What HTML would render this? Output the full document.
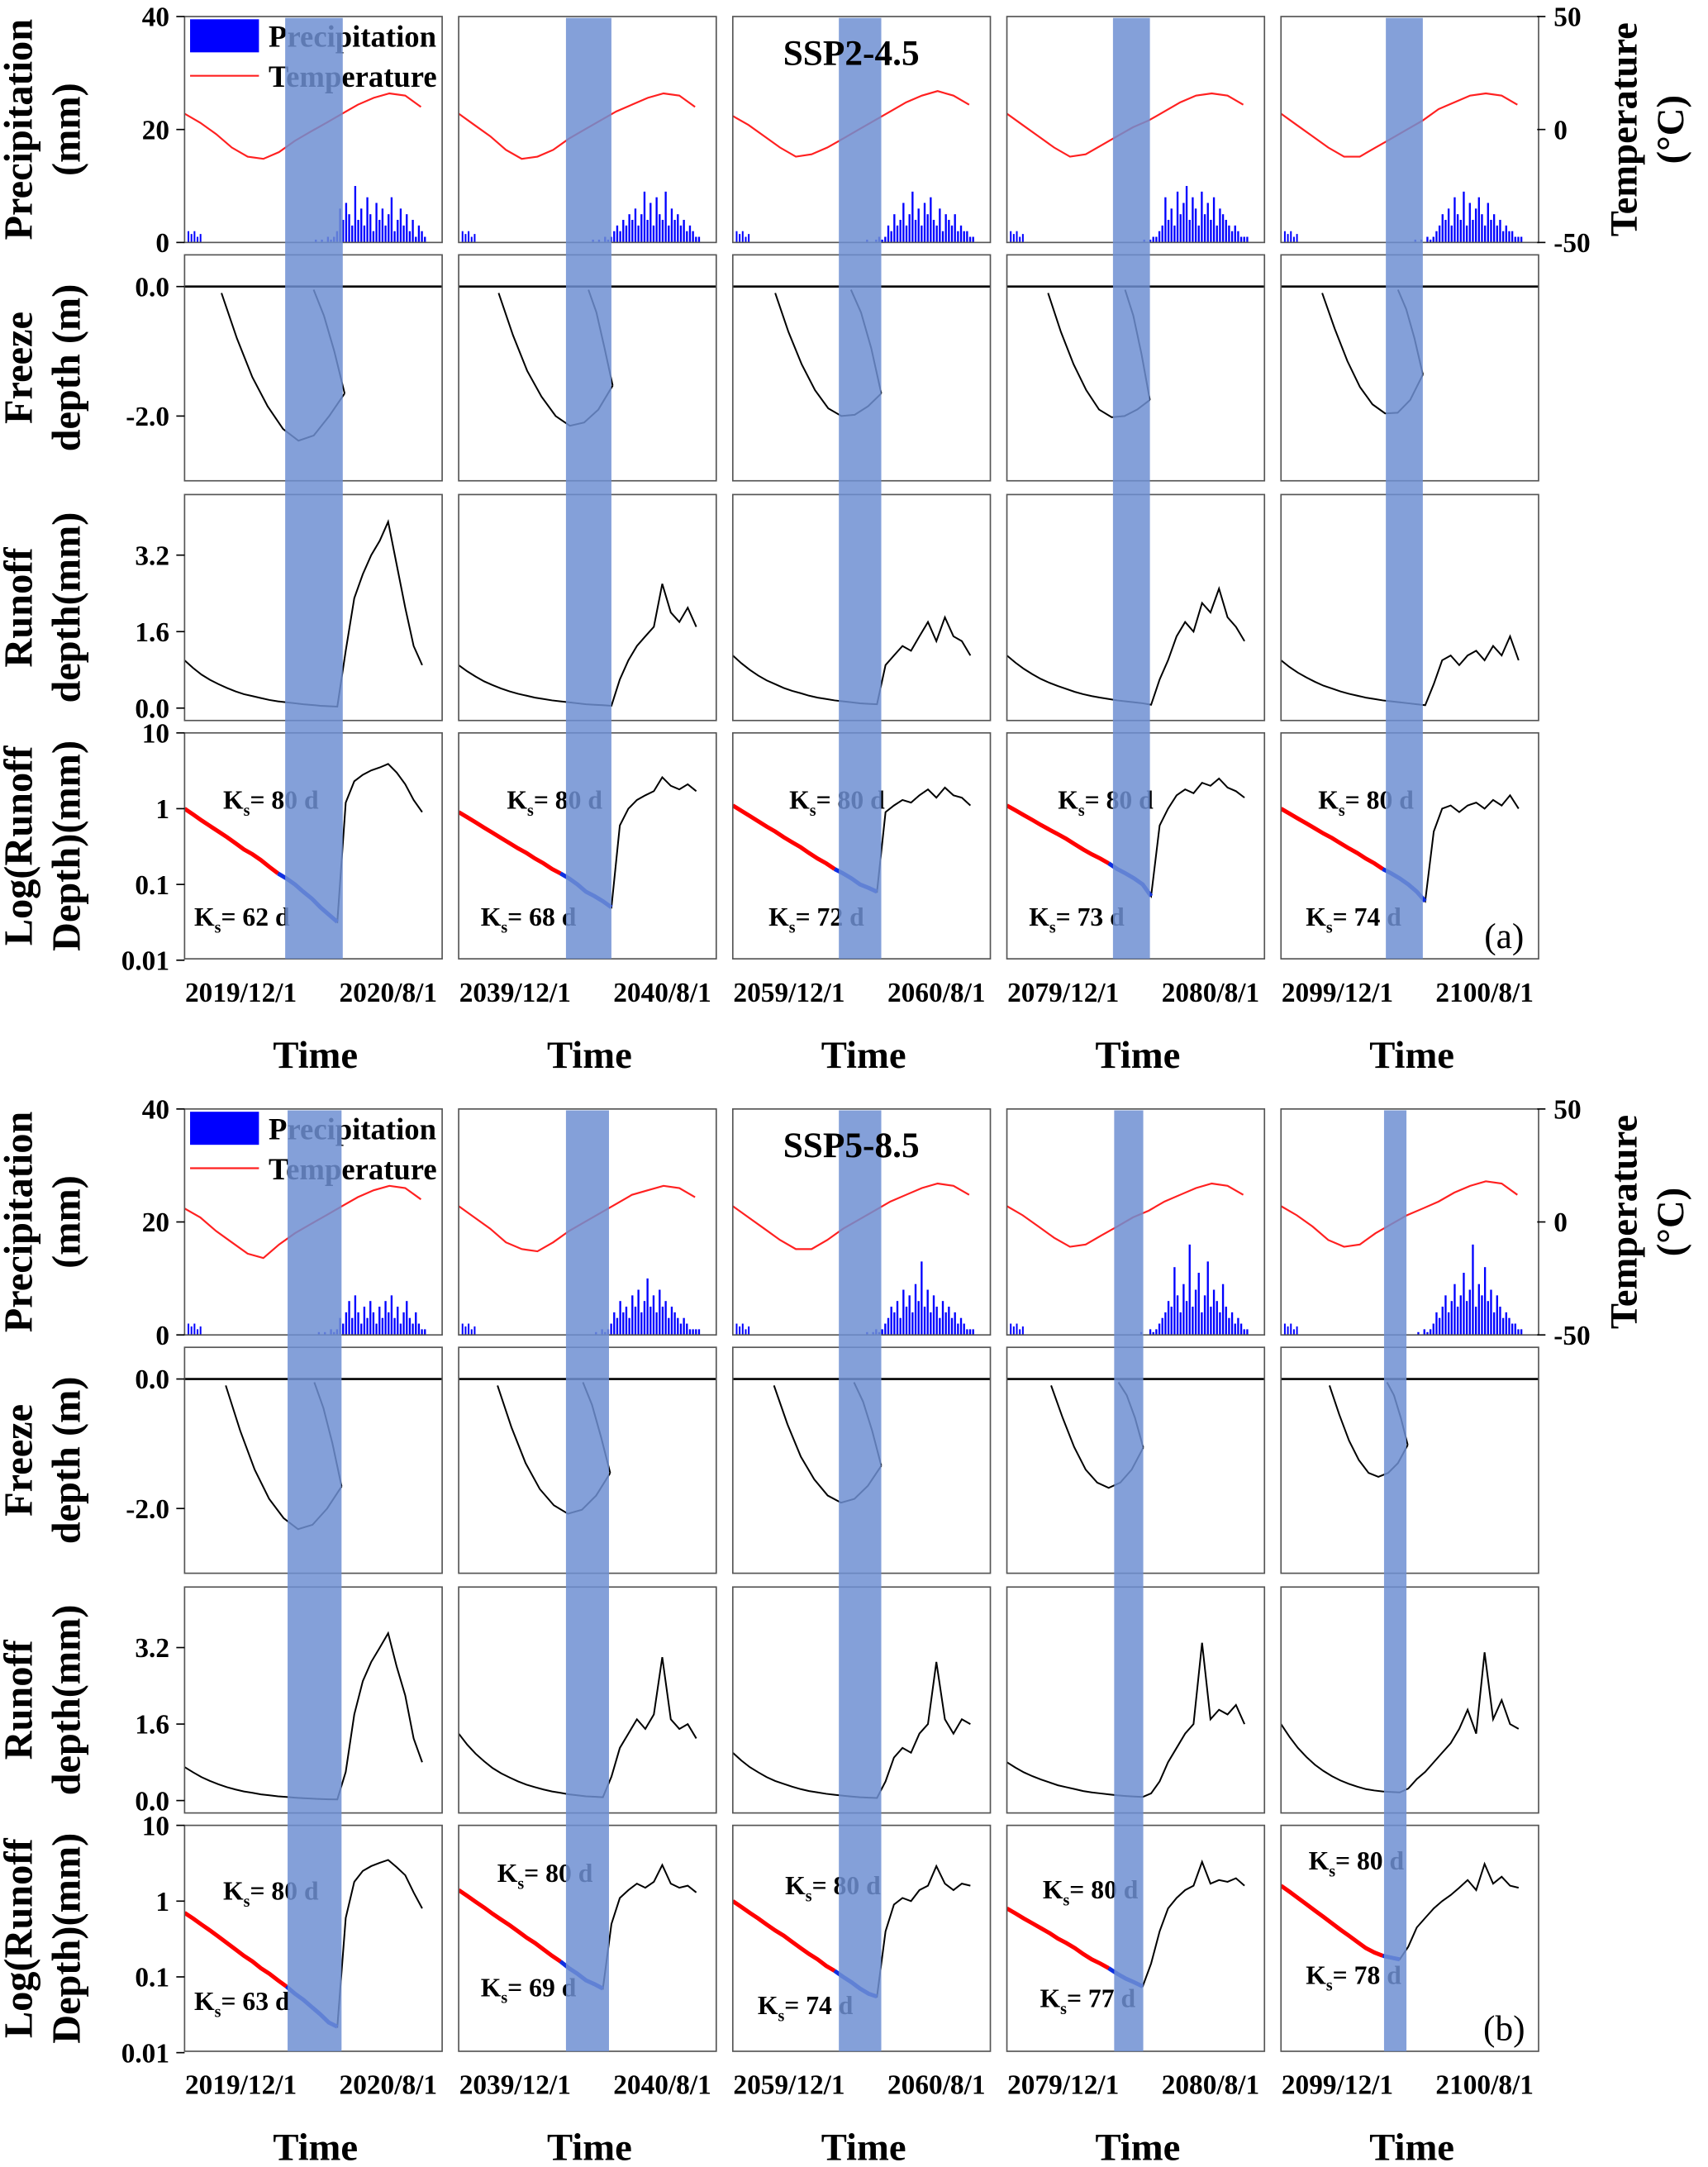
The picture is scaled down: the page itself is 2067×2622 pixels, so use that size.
<!DOCTYPE html>
<html><head><meta charset="utf-8"><style>
html,body{margin:0;padding:0;background:#fff;}
svg{display:block;font-family:"Liberation Serif",serif;}
</style></head><body>
<svg id="chart" width="2067" height="2622" viewBox="0 0 1240 1573" preserveAspectRatio="none" xmlns="http://www.w3.org/2000/svg"></svg>
<script>
// ---------------- data ----------------
const startYears=[2019,2039,2059,2079,2099];
const tickLabelsDate=['/12/1','/8/1'];
const precipTicks=[0,20,40];
const tempTicks=[50,0,-50];
const freezeTicks=[0.0,-2.0];
const runoffTicks=[0.0,1.6,3.2];
const logTicks=[10,1,0.1,0.01];
const logTickLabels=['10','1','0.1','0.01'];
const scenarios=['SSP2-4.5','SSP5-8.5'];
const panelLetters=['(a)','(b)'];
// temperature every 26 days (°C)
const tempA=[
[7,3,-2,-8,-12,-13,-10,-5,-1,3,7,11,14,16,15,10],
[7,2,-3,-9,-13,-12,-9,-4,0,4,8,11,14,16,15,10],
[6,2,-3,-8,-12,-11,-8,-4,0,4,8,12,15,17,15,11],
[7,2,-3,-8,-12,-11,-7,-3,1,4,8,12,15,16,15,11],
[7,2,-3,-8,-12,-12,-8,-4,0,4,9,12,15,16,15,11]];
const tempB=[
[6,2,-4,-9,-14,-16,-10,-5,-1,3,7,11,14,16,15,10],
[7,2,-3,-9,-12,-13,-9,-4,0,4,8,12,14,16,15,11],
[7,2,-3,-8,-12,-12,-8,-3,1,5,9,12,15,17,16,12],
[7,3,-2,-7,-11,-10,-6,-2,2,5,9,12,15,17,16,12],
[7,3,-2,-8,-11,-10,-5,-1,3,6,9,13,16,18,17,12]];
// precipitation every 5 days starting day 200 (mm)
const precipA=[
[0,0,0,0.5,0,0.5,0,1,0.5,1,2,6,4,7,5,3,10,4,6,3,8,5,2,7,4,6,3,5,8,2,4,6,3,5,2,4,1,3,2,1],
[0,0,0,0,0.5,0,0.5,0,1,0.5,1,2,3,2,4,3,5,4,6,3,5,9,4,7,3,8,5,4,9,3,6,4,5,3,4,2,3,2,1,1],
[0,0,0,0,0.5,0,0,0.5,1,0.5,1,3,2,5,3,4,7,3,5,9,4,6,3,7,5,8,4,3,6,2,5,4,3,5,2,3,2,2,1,1],
[0,0,0,0,0,0.5,0,0.5,1,1,2,3,8,4,6,3,9,5,7,10,4,8,6,3,9,5,7,4,8,3,6,5,4,3,2,3,2,1,1,1],
[0,0,0,0,0.5,0,0.5,0,1,0.5,1,2,3,5,4,6,3,8,5,4,9,3,7,4,6,8,5,3,7,4,5,3,4,2,3,2,2,1,1,1]];
const precipB=[
[0,0,0,0,0.5,0,0.5,0,1,0.5,1,3,2,4,6,3,7,4,2,5,3,6,4,2,5,3,6,4,7,3,5,2,4,6,3,2,4,2,1,1],
[0,0,0,0,0,0.5,0,1,0.5,1,2,4,3,6,4,5,3,7,5,8,4,6,10,5,7,4,8,5,6,3,5,4,3,2,3,2,1,1,1,1],
[0,0,0,0,0.5,0,0.5,1,0.5,1,2,3,5,4,6,3,8,5,7,4,9,6,13,5,8,4,7,5,3,6,4,5,3,4,2,3,2,1,1,1],
[0,0,0,0,0.5,0,0,1,0.5,1,2,3,4,6,5,12,7,4,9,6,16,5,8,11,4,7,13,5,8,6,4,9,5,3,4,2,3,2,1,1],
[0,0,0,0,0,0.5,0,1,0.5,1,2,4,3,5,7,4,6,9,5,7,11,6,8,16,5,9,7,12,6,8,4,7,5,3,4,3,2,2,1,1]];
const earlyPrecip=[2,1.5,2,1,1.5];
// blue band [start day, end day]
const bandA=[[166,261],[177,252],[175,245],[175,236],[173,234]];
const bandB=[[170,259],[177,248],[175,245],[177,225],[170,207]];
// freeze: [freeze start day, end day, thaw start day]
const fzDaysA=[[61,264,213],[66,254,214],[70,245,195],[68,236,195],[68,234,193]];
const fzDaysB=[[68,259,214],[64,250,205],[68,245,200],[73,225,184],[80,209,175]];
const freezeA=[
[-0.1,-0.8,-1.4,-1.85,-2.2,-2.38,-2.3,-2.0,-1.65],
[-0.1,-0.75,-1.3,-1.7,-2.0,-2.15,-2.1,-1.9,-1.53],
[-0.1,-0.7,-1.2,-1.6,-1.88,-2.0,-1.98,-1.85,-1.65],
[-0.1,-0.7,-1.2,-1.6,-1.9,-2.02,-2.0,-1.9,-1.75],
[-0.1,-0.65,-1.15,-1.55,-1.82,-1.96,-1.95,-1.75,-1.36]];
const freezeB=[
[-0.1,-0.8,-1.4,-1.85,-2.15,-2.32,-2.25,-2.0,-1.66],
[-0.1,-0.75,-1.3,-1.7,-1.95,-2.08,-2.02,-1.8,-1.45],
[-0.1,-0.7,-1.2,-1.55,-1.8,-1.91,-1.85,-1.65,-1.34],
[-0.1,-0.6,-1.05,-1.4,-1.6,-1.68,-1.6,-1.4,-1.06],
[-0.1,-0.55,-0.95,-1.25,-1.45,-1.51,-1.45,-1.3,-1.02]];
const thawA=[[-0.05,-0.45,-1.0,-1.65],[-0.05,-0.4,-0.95,-1.53],[-0.05,-0.4,-0.95,-1.65],[-0.05,-0.45,-1.05,-1.75],[-0.05,-0.35,-0.8,-1.36]];
const thawB=[[-0.05,-0.45,-1.0,-1.66],[-0.05,-0.4,-0.9,-1.45],[-0.05,-0.35,-0.8,-1.34],[-0.05,-0.25,-0.6,-1.06],[-0.05,-0.25,-0.6,-1.02]];
// runoff every 14 days (mm)
const runoffA=[
[1.0,.84,.70,.59,.50,.42,.35,.29,.25,.21,.17,.14,.12,.10,.08,.065,.05,.04,.032,1.2,2.3,2.8,3.2,3.5,3.9,3.0,2.1,1.3,0.9],
[0.9,.77,.66,.56,.48,.41,.35,.30,.26,.22,.19,.16,.14,.12,.10,.08,.07,.06,.05,.6,1.0,1.3,1.5,1.7,2.6,2.0,1.8,2.1,1.7],
[1.1,.94,.80,.68,.58,.50,.42,.36,.31,.26,.22,.19,.16,.14,.12,.10,.09,.08,.9,1.1,1.3,1.2,1.5,1.8,1.4,1.9,1.5,1.4,1.1],
[1.1,.95,.82,.71,.61,.53,.46,.40,.34,.29,.25,.22,.19,.16,.14,.12,.10,.07,.6,1.0,1.5,1.8,1.6,2.2,2.0,2.5,1.9,1.7,1.4],
[1.0,.86,.74,.64,.55,.47,.41,.35,.30,.26,.22,.19,.16,.14,.12,.10,.08,.06,.5,1.0,1.1,0.9,1.1,1.2,1.0,1.3,1.1,1.5,1.0]];
const runoffB=[
[.7,.59,.49,.41,.34,.28,.23,.19,.16,.13,.11,.09,.075,.06,.05,.04,.032,.025,.022,.6,1.8,2.5,2.9,3.2,3.5,2.8,2.2,1.3,0.8],
[1.4,1.17,.98,.82,.68,.57,.48,.40,.33,.28,.23,.19,.16,.13,.11,.09,.08,.07,.5,1.1,1.4,1.7,1.5,1.8,3.0,1.7,1.5,1.6,1.3],
[1.0,.84,.70,.59,.49,.41,.35,.29,.24,.20,.17,.14,.12,.10,.085,.07,.06,.055,.4,.9,1.1,1.0,1.4,1.6,2.9,1.7,1.4,1.7,1.6],
[.8,.69,.59,.51,.44,.38,.32,.28,.24,.20,.17,.15,.13,.11,.095,.085,.075,.15,.4,.8,1.1,1.4,1.6,3.3,1.7,1.9,1.8,2.0,1.6],
[1.6,1.33,1.1,.91,.75,.62,.51,.42,.35,.29,.24,.21,.19,.18,.17,.25,.45,.6,.8,1.0,1.2,1.5,1.9,1.4,3.1,1.7,2.1,1.6,1.5]];
const ksRed=[[80,80,80,80,80],[80,80,80,80,80]];
const ksBlueA=[62,68,72,73,74];
const ksBlueB=[63,69,74,77,78];

// ---------------- layout ----------------
const svg=document.getElementById('chart');
const NS='http://www.w3.org/2000/svg';
const colX=[134,333,532,731,930];
const W=187,H=164;
const panelTop=[12,805];
const rowOff=[0,173,347,520];
const dayPx=0.44;
const ksRedPos=[[[28,55],[35,55],[41,55],[37,55],[27,55]],[[28,54],[28,41],[38,50],[26,53],[20,32]]];
const ksBluePos=[[[7,140],[16,140],[26,140],[16,140],[18,140]],[[7,134],[16,124],[18,137],[24,132],[18,115]]];

function mk(tag,attrs,parent){const e=document.createElementNS(NS,tag);for(const k in attrs)e.setAttribute(k,attrs[k]);(parent||svg).appendChild(e);return e;}
function txt(s,attrs,parent){const e=mk('text',attrs,parent);e.textContent=s;return e;}
function pathD(pts){return pts.map((p,i)=>(i?'L':'M')+p[0].toFixed(1)+' '+p[1].toFixed(1)).join(' ');}
let clipId=0;
function clip(x,y,w,h){const id='c'+(clipId++);const cp=mk('clipPath',{id:id});mk('rect',{x:x,y:y,width:w,height:h},cp);return 'url(#'+id+')';}

for(let p=0;p<2;p++){
  const top=panelTop[p];
  const temps=p?tempB:tempA, precs=p?precipB:precipA, bands=p?bandB:bandA;
  const fzd=p?fzDaysB:fzDaysA, fzs=p?freezeB:freezeA, thw=p?thawB:thawA, ros=p?runoffB:runoffA;
  const ksB=p?ksBlueB:ksBlueA;
  for(let c=0;c<5;c++){
    const x0=colX[c];
    const xd=d=>x0+d*dayPx;
    const g=mk('g',{});
    
    
    // row1
    const t1=top+rowOff[0];
    const yP=v=>t1+H-v*4.1;
    const yT=v=>t1+H/2-v*1.64;
    const g1=mk('g',{'clip-path':clip(x0,t1,W,H)},g);
    
    
    earlyPrecip.forEach((v,i)=>{const r=mk('rect',{x:xd(5+i*5),y:yP(v),width:1.2,height:v*4.1,fill:'#0000ff'},g1);
      
      });
    precs[c].forEach((v,i)=>{if(v<=0)return;const r=mk('rect',{x:xd(200+i*5),y:yP(v),width:1.4,height:v*4.1,fill:'#0000ff'},g1);
      
      });
    const tl=mk('path',{d:pathD(temps[c].map((v,i)=>[xd(i*26),yT(v)])),fill:'none',stroke:'#ff2020','stroke-width':1.3},g1);
    
    
    // row2
    const t2=top+rowOff[1];
    const yF=v=>t2+23-v*47;
    const g2=mk('g',{'clip-path':clip(x0,t2,W,H)},g);
    
    
    const zl=mk('line',{x1:x0,x2:x0+W,y1:yF(0),y2:yF(0),stroke:'#000','stroke-width':1.6},g2);
    
    
    const [fs,fe,ts]=fzd[c];
    const fl=mk('path',{d:pathD(fzs[c].map((v,i)=>[xd(fs+(fe-fs)*i/8),yF(v)])),fill:'none',stroke:'#000','stroke-width':1.2},g2);
    
    
    const th=mk('path',{d:pathD(thw[c].map((v,i)=>[xd(ts+(fe-ts)*i/3),yF(v)])),fill:'none',stroke:'#000','stroke-width':1.2},g2);
    
    
    // row3
    const t3=top+rowOff[2];
    const yR=v=>t3+155-v*34.7;
    const g3=mk('g',{'clip-path':clip(x0,t3,W,H)},g);
    
    
    const rl=mk('path',{d:pathD(ros[c].map((v,i)=>[xd(i*14),yR(v)])),fill:'none',stroke:'#000','stroke-width':1.2},g3);
    
    
    // row4
    const t4=top+rowOff[3];
    const yL=v=>t4+(1-Math.log10(Math.max(v,0.005)))*55;
    const g4=mk('g',{'clip-path':clip(x0,t4,W,H)},g);
    
    
    const ll=mk('path',{d:pathD(ros[c].map((v,i)=>[xd(i*14),yL(v)])),fill:'none',stroke:'#000','stroke-width':1.2},g4);
    
    
    const r=ros[c];let mi=0;for(let i=1;i<r.length;i++){if(r[i]>r[i-1])break;mi=i;}
    const bs=bands[c][0];
    const redPts=[],bluePts=[];
    for(let i=0;i<=mi;i++){const d=i*14;if(d<=bs)redPts.push([xd(d),yL(r[i])]);if(d>=bs-14)bluePts.push([xd(d),yL(r[i])]);}
    const rr=mk('path',{d:pathD(redPts),fill:'none',stroke:'#ff0000','stroke-width':3},g4);
    
    
    if(bluePts.length)bluePts[0]=redPts[redPts.length-1];
    const bb=mk('path',{d:pathD(bluePts),fill:'none',stroke:'#1030e0','stroke-width':3},g4);
    
    
    for(let rI=0;rI<4;rI++){
      const b=mk('rect',{x:x0,y:top+rowOff[rI],width:W,height:H,fill:'none',stroke:'#555','stroke-width':1},g);
      
      
    }
    const rp=ksRedPos[p][c],bp=ksBluePos[p][c];
    const k1=txt('',{x:x0+rp[0],y:t4+rp[1],'font-size':19,'font-weight':'bold'},g);
    
    
    k1.innerHTML='K<tspan font-size="12" dy="5">s</tspan><tspan dy="-5">= '+ksRed[p][c]+' d</tspan>';
    const k2=txt('',{x:x0+bp[0],y:t4+bp[1],'font-size':19,'font-weight':'bold'},g);
    
    
    k2.innerHTML='K<tspan font-size="12" dy="5">s</tspan><tspan dy="-5">= '+ksB[c]+' d</tspan>';
    const d1=txt(startYears[c]+tickLabelsDate[0],{x:xd(93),y:top+715,'font-size':20,'font-weight':'bold','text-anchor':'middle'},g);
    
    
    const d2=txt((startYears[c]+1)+tickLabelsDate[1],{x:xd(336),y:top+715,'font-size':20,'font-weight':'bold','text-anchor':'middle'},g);
    
    
    const tt=txt('Time',{x:x0+95,y:top+763,'font-size':28,'font-weight':'bold','text-anchor':'middle'},g);
    
    
  }
  const lr=mk('rect',{x:138,y:top+2,width:50,height:24,fill:'#0000ff'});
  
  
  const lt1=txt('Precipitation',{x:195,y:top+22,'font-size':22,'font-weight':'bold'});
  
  
  const ll2=mk('line',{x1:138,x2:188,y1:top+43,y2:top+43,stroke:'#ff2020','stroke-width':1.3});
  
  
  const lt2=txt('Temperature',{x:195,y:top+51,'font-size':22,'font-weight':'bold'});
  
  
  for(let c=0;c<5;c++){
    const b=bands[c];
    const br=mk('rect',{x:colX[c]+b[0]*dayPx,y:top+1,width:(b[1]-b[0])*dayPx,height:rowOff[3]+H-1,fill:'#6f8fd2','fill-opacity':0.85});
    
    
  }
  const sc=txt(scenarios[p],{x:618,y:top+35,'font-size':26,'font-weight':'bold','text-anchor':'middle'});
  
  
  const pl=txt(panelLetters[p],{x:1092,y:top+676,'font-size':26,'text-anchor':'middle'});
  
  
  const t1=top, t2=top+rowOff[1], t3=top+rowOff[2], t4=top+rowOff[3];
  const ticks=[];
  precipTicks.forEach(v=>ticks.push([String(v),t1+H-v*4.1]));
  freezeTicks.forEach(v=>ticks.push([v.toFixed(1),t2+23-v*47]));
  runoffTicks.forEach(v=>ticks.push([v.toFixed(1),t3+155-v*34.7]));
  logTicks.forEach((v,i)=>ticks.push([logTickLabels[i],t4+(1-Math.log10(v))*55]));
  ticks.forEach(([s,y])=>{
    const tm=mk('line',{x1:128,x2:134,y1:y,y2:y,stroke:'#000','stroke-width':1});
    
    
    const tl=txt(s,{x:123,y:y+7,'font-size':20,'font-weight':'bold','text-anchor':'end'});
    
    
  });
  tempTicks.forEach(v=>{
    const y=t1+H/2-v*1.64;
    const tm=mk('line',{x1:1116,x2:1122,y1:y,y2:y,stroke:'#000','stroke-width':1});
    
    
    const tl=txt(String(v),{x:1128,y:y+7,'font-size':20,'font-weight':'bold'});
    
    
  });
  const titles=[[['Precipitation','(mm)'],t1+H/2],[['Freeze','depth (m)'],t2+H/2],[['Runoff','depth(mm)'],t3+H/2],[['Log(Runoff','Depth)(mm)'],t4+H/2]];
  titles.forEach(([lines,yc])=>{
    const g=mk('g',{transform:'translate(0,'+yc+') rotate(-90)'});
    
    
    txt(lines[0],{x:0,y:23,'font-size':29,'font-weight':'bold','text-anchor':'middle'},g);
    txt(lines[1],{x:0,y:58,'font-size':29,'font-weight':'bold','text-anchor':'middle'},g);
  });
  const rg=mk('g',{transform:'translate(0,'+(t1+H/2)+') rotate(-90)'});
  
  
  txt('Temperature',{x:0,y:1188,'font-size':28,'font-weight':'bold','text-anchor':'middle'},rg);
  txt('(°C)',{x:0,y:1222,'font-size':28,'font-weight':'bold','text-anchor':'middle'},rg);
}
</script>
</body></html>
